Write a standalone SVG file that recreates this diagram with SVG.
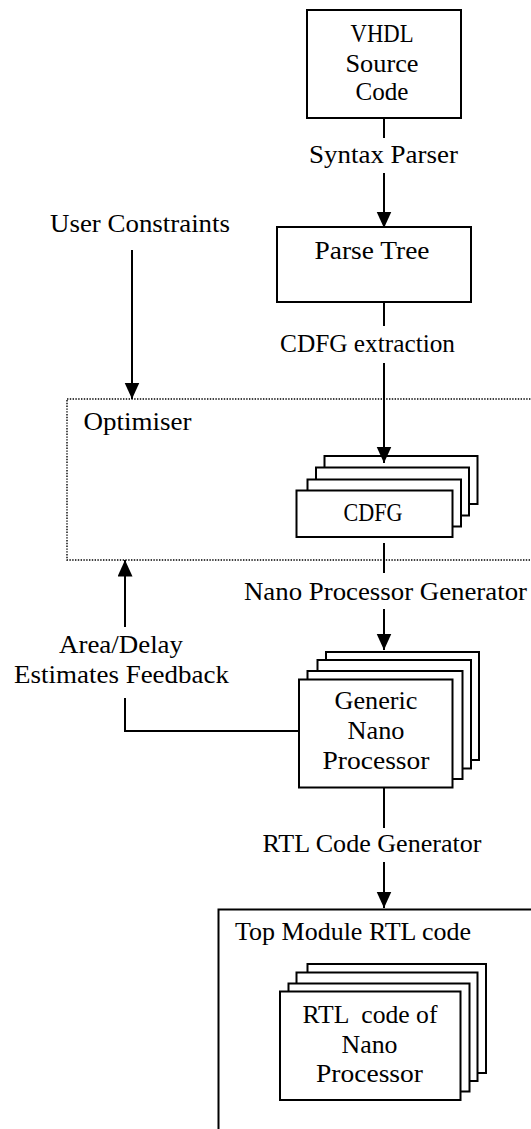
<svg xmlns="http://www.w3.org/2000/svg" width="531" height="1129" viewBox="0 0 531 1129">
  <style>
    .box { fill: #fff; stroke: #000; stroke-width: 2; }
    .frame { fill: none; stroke: #000; stroke-width: 2; }
    .dotted { fill: none; stroke: #000; stroke-width: 1.4; stroke-dasharray: 1.4 1.4; }
    .wire { fill: none; stroke: #000; stroke-width: 2; }
    text { font-family: "Liberation Serif", "Times New Roman", serif; font-size: 24.5px; fill: #000; }
    .c { text-anchor: middle; }
  </style>
  <defs>
    <marker id="arrow" markerUnits="userSpaceOnUse" markerWidth="17" markerHeight="16" refX="16.5" refY="7.5" orient="auto">
      <path d="M0,0 L16.5,7.5 L0,15 Z" fill="#000"/>
    </marker>
  </defs>

  <rect width="531" height="1129" fill="#fff"/>

  <!-- Optimiser region (dotted container) -->
  <g id="optimiser">
    <rect class="dotted" x="67" y="399" width="480" height="161"/>
    <text x="83.5" y="430" textLength="108" lengthAdjust="spacingAndGlyphs">Optimiser</text>
  </g>

  <!-- Top module container -->
  <g id="top-module">
    <rect class="frame" x="218.5" y="909.5" width="400" height="300"/>
    <text x="235" y="940" textLength="236" lengthAdjust="spacingAndGlyphs">Top Module RTL code</text>
  </g>

  <g id="vhdl-source">
    <rect class="box" x="307" y="10" width="154" height="108"/>
    <text class="c" x="382" y="42" textLength="63" lengthAdjust="spacingAndGlyphs">VHDL</text>
    <text class="c" x="382" y="72" textLength="73" lengthAdjust="spacingAndGlyphs">Source</text>
    <text class="c" x="382" y="100" textLength="53" lengthAdjust="spacingAndGlyphs">Code</text>
  </g>

  <g id="parse-tree">
    <rect class="box" x="277" y="227" width="194" height="75"/>
    <text class="c" x="372" y="259" textLength="115" lengthAdjust="spacingAndGlyphs">Parse Tree</text>
  </g>

  <g id="cdfg">
    <rect class="box" x="324.5" y="456" width="153" height="48"/>
    <rect class="box" x="316" y="467.5" width="153" height="48"/>
    <rect class="box" x="307.5" y="479.5" width="153.5" height="47"/>
    <rect class="box" x="296.5" y="490.5" width="156" height="46.5"/>
    <text class="c" x="373" y="521" textLength="59" lengthAdjust="spacingAndGlyphs">CDFG</text>
  </g>

  <g id="generic-nano-processor">
    <rect class="box" x="326" y="652" width="153" height="108"/>
    <rect class="box" x="317.5" y="660" width="153.5" height="108.5"/>
    <rect class="box" x="307.5" y="671" width="155" height="108"/>
    <rect class="box" x="299" y="679.5" width="153.5" height="108"/>
    <text class="c" x="376" y="709" textLength="83" lengthAdjust="spacingAndGlyphs">Generic</text>
    <text class="c" x="376" y="739" textLength="57" lengthAdjust="spacingAndGlyphs">Nano</text>
    <text class="c" x="376" y="769" textLength="107" lengthAdjust="spacingAndGlyphs">Processor</text>
  </g>

  <g id="rtl-nano-processor">
    <rect class="box" x="307.5" y="964" width="178.5" height="109"/>
    <rect class="box" x="296.5" y="972.5" width="181" height="108.5"/>
    <rect class="box" x="288.5" y="983.5" width="181" height="108"/>
    <rect class="box" x="280" y="991.5" width="180.5" height="108.5"/>
    <text class="c" x="370" y="1022.5" xml:space="preserve" textLength="135" lengthAdjust="spacingAndGlyphs">RTL  code of</text>
    <text class="c" x="369.5" y="1053" textLength="56" lengthAdjust="spacingAndGlyphs">Nano</text>
    <text class="c" x="369.5" y="1082" textLength="107" lengthAdjust="spacingAndGlyphs">Processor</text>
  </g>

  <g id="user-constraints">
    <text class="c" x="140" y="232" textLength="180" lengthAdjust="spacingAndGlyphs">User Constraints</text>
  </g>

  <g id="connectors">
    <!-- VHDL source to parse tree -->
    <line class="wire" x1="384" y1="118" x2="384" y2="138"/>
    <line class="wire" x1="384" y1="173" x2="384" y2="228" marker-end="url(#arrow)"/>
    <text class="c" x="383.5" y="163" textLength="149" lengthAdjust="spacingAndGlyphs">Syntax Parser</text>

    <!-- user constraints into optimiser -->
    <line class="wire" x1="132" y1="250" x2="132" y2="399" marker-end="url(#arrow)"/>

    <!-- parse tree to CDFG -->
    <line class="wire" x1="384" y1="302" x2="384" y2="326"/>
    <line class="wire" x1="384" y1="363" x2="384" y2="463" marker-end="url(#arrow)"/>
    <text class="c" x="367.5" y="352" textLength="175" lengthAdjust="spacingAndGlyphs">CDFG extraction</text>

    <!-- CDFG to generic nano processor -->
    <line class="wire" x1="384" y1="543" x2="384" y2="573"/>
    <line class="wire" x1="384" y1="609" x2="384" y2="650" marker-end="url(#arrow)"/>
    <text class="c" x="385.5" y="600" textLength="283" lengthAdjust="spacingAndGlyphs">Nano Processor Generator</text>

    <!-- area/delay feedback to optimiser -->
    <polyline class="wire" points="299,731 125,731 125,698"/>
    <line class="wire" x1="125" y1="627" x2="125" y2="560" marker-end="url(#arrow)"/>
    <text class="c" x="121" y="653" textLength="124" lengthAdjust="spacingAndGlyphs">Area/Delay</text>
    <text class="c" x="121.5" y="683" textLength="215" lengthAdjust="spacingAndGlyphs">Estimates Feedback</text>

    <!-- generic nano processor to top module -->
    <line class="wire" x1="384" y1="788" x2="384" y2="828"/>
    <line class="wire" x1="384" y1="862" x2="384" y2="908" marker-end="url(#arrow)"/>
    <text class="c" x="372" y="852" textLength="219" lengthAdjust="spacingAndGlyphs">RTL Code Generator</text>
  </g>
</svg>
